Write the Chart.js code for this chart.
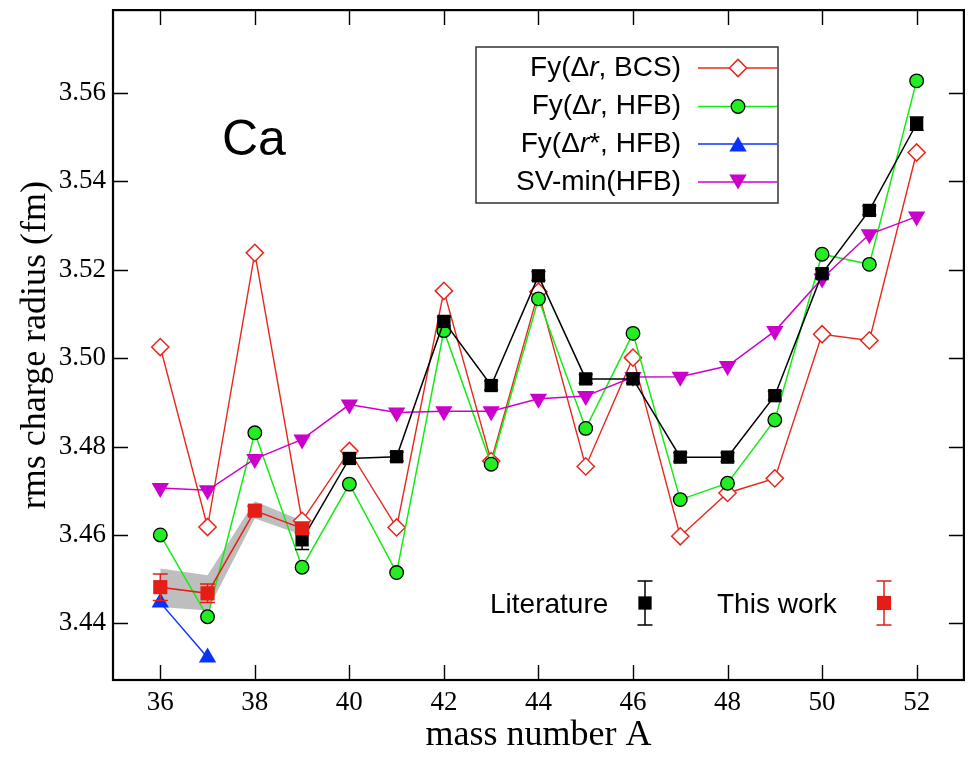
<!DOCTYPE html>
<html><head><meta charset="utf-8">
<script src="https://cdn.jsdelivr.net/npm/chart.js@4/dist/chart.umd.min.js"></script>
<style>html,body{margin:0;padding:0;background:#fff}canvas{display:block}</style>
</head><body>
<canvas id="c" width="974" height="757"></canvas>
<script>
// ---- data ----
const massNumbers = [36,37,38,39,40,41,42,43,44,45,46,47,48,49,50,51,52];
const xTickValues = [36,38,40,42,44,46,48,50,52];
const yTickValues = [3.44,3.46,3.48,3.50,3.52,3.54,3.56];
const fyBCS = [3.5025,3.4618,3.5238,3.4632,3.4790,3.4617,3.5152,3.4767,3.5150,3.4755,3.5001,3.4597,3.4695,3.4728,3.5054,3.5040,3.5465];
const fyHFB = [3.4600,3.4415,3.4831,3.4527,3.4715,3.4515,3.5062,3.4760,3.5134,3.4841,3.5056,3.4680,3.4717,3.4860,3.5235,3.5212,3.5627];
const fyStarA = [36,37];
const fyStarHFB = [3.4447,3.4323];
const svMinHFB = [3.4706,3.4701,3.4772,3.4816,3.4895,3.4877,3.4880,3.4880,3.4908,3.4914,3.4957,3.4958,3.4982,3.5061,3.5180,3.5280,3.5320];
const litA = [39,40,41,42,43,44,45,46,47,48,49,50,51,52];
const litRadius = [3.4589,3.4773,3.4777,3.5083,3.4938,3.5186,3.4953,3.4953,3.4776,3.4776,3.4915,3.5191,3.5334,3.5530];
const litErr = [0.0022,0.0010,0.0010,0.0010,0.0010,0.0010,0.0010,0.0010,0.0010,0.0010,0.0010,0.0010,0.0010,0.0015];
const workA = [36,37,38,39];
const workRadius = [3.4482,3.4468,3.4655,3.4615];
const workErr = [0.0030,0.0021,0.0010,0.0010];
const bandUpper = [3.4524,3.4509,3.4676,3.4632];
const bandLower = [3.4437,3.4429,3.4637,3.4600];

const legendLabels = [
  [['Fy(Δ',0],['r',1],[', BCS)',0]],
  [['Fy(Δ',0],['r',1],[', HFB)',0]],
  [['Fy(Δ',0],['r',1],['*, HFB)',0]],
  [['SV-min(HFB)',0]]
];
const elementLabel = 'Ca';
const litLabel = 'Literature';
const workLabel = 'This work';

// ---- colours ----
const RED = 'rgb(232,40,28)';
const GREEN_LINE = 'rgb(20,235,20)';
const GREEN_FILL = 'rgb(34,238,34)';
const BLUE = 'rgb(10,50,255)';
const MAGENTA = 'rgb(204,0,204)';
const WORK_RED = 'rgb(228,30,22)';

const pts = (xs, ys) => xs.map((x, i) => ({x: x, y: ys[i]}));

const series = [
  {key:'work', label: workLabel, data: pts(workA, workRadius), borderColor: WORK_RED, borderWidth: 1.5,
   pointStyle:'rect', pointRadius:10, pointBackgroundColor: WORK_RED, pointBorderColor: WORK_RED, pointBorderWidth:0,
   errors: workErr, errColor: WORK_RED, capW: 15, order: 0},
  {key:'lit', label: litLabel, data: pts(litA, litRadius), borderColor:'#000', borderWidth:1.5,
   pointStyle:'rect', pointRadius:9.4, pointBackgroundColor:'#000', pointBorderColor:'#000', pointBorderWidth:0,
   errors: litErr, errColor:'#000', capW: 14, order: 1},
  {key:'sv', label:'SV-min(HFB)', data: pts(massNumbers, svMinHFB), borderColor: MAGENTA, borderWidth:1.5,
   pointStyle:'triangle', rotation:180, pointRotation:180, pointRadius:10, pointBackgroundColor: MAGENTA, pointBorderColor: MAGENTA, pointBorderWidth:0, order: 2},
  {key:'star', label:'Fy(Δr*, HFB)', data: pts(fyStarA, fyStarHFB), borderColor: BLUE, borderWidth:1.5,
   pointStyle:'triangle', pointRadius:10, pointBackgroundColor: BLUE, pointBorderColor: BLUE, pointBorderWidth:0, order: 3},
  {key:'hfb', label:'Fy(Δr, HFB)', data: pts(massNumbers, fyHFB), borderColor: GREEN_LINE, borderWidth:1.5,
   pointStyle:'circle', pointRadius:6.8, pointBackgroundColor: GREEN_FILL, pointBorderColor:'#000', pointBorderWidth:1.3, order: 4},
  {key:'bcs', label:'Fy(Δr, BCS)', data: pts(massNumbers, fyBCS), borderColor: RED, borderWidth:1.4,
   pointStyle:'rectRot', pointRadius:8.6, pointBackgroundColor:'#fff', pointBorderColor: RED, pointBorderWidth:1.5, order: 5},
  {key:'bandU', label:'band', data: pts(workA, bandUpper), borderWidth:0, borderColor:'rgba(0,0,0,0)', pointRadius:0,
   fill:'+1', backgroundColor:'rgb(190,190,190)', order: 6},
  {key:'bandL', label:'band', data: pts(workA, bandLower), borderWidth:0, borderColor:'rgba(0,0,0,0)', pointRadius:0,
   fill:false, order: 7}
];
series.forEach(s => { s.tension = 0; s.pointHoverRadius = s.pointRadius; if (s.fill === undefined) s.fill = false; });

// ---- helpers ----
function marker(ctx, style, x, y, r, fill, stroke, bw, rot) {
  ctx.save();
  ctx.fillStyle = fill; ctx.strokeStyle = stroke; ctx.lineWidth = bw || 0;
  if (Chart.helpers && Chart.helpers.drawPoint) {
    Chart.helpers.drawPoint(ctx, {pointStyle: style, radius: r, borderWidth: bw || 0, rotation: rot || 0}, x, y);
  }
  ctx.restore();
}

const errorBars = {
  id: 'errorBars',
  beforeDatasetDraw(chart, args) {
    const ds = chart.data.datasets[args.index];
    if (!ds.errors) return;
    const ctx = chart.ctx, ys = chart.scales.y;
    ctx.save();
    ctx.strokeStyle = ds.errColor; ctx.lineWidth = 1.5;
    args.meta.data.forEach((pt, i) => {
      const v = ds.data[i].y, e = ds.errors[i];
      const t = ys.getPixelForValue(v + e), b = ys.getPixelForValue(v - e);
      const h = ds.capW / 2;
      ctx.beginPath();
      ctx.moveTo(pt.x, t); ctx.lineTo(pt.x, b);
      ctx.moveTo(pt.x - h, t); ctx.lineTo(pt.x + h, t);
      ctx.moveTo(pt.x - h, b); ctx.lineTo(pt.x + h, b);
      ctx.stroke();
    });
    ctx.restore();
  }
};

const frameTicks = {
  id: 'frameTicks',
  afterDatasetsDraw(chart) {
    const ctx = chart.ctx, a = chart.chartArea, xs = chart.scales.x, ys = chart.scales.y;
    const L = 15;
    ctx.save();
    ctx.strokeStyle = '#000'; ctx.lineWidth = 1.4;
    ctx.beginPath();
    xTickValues.forEach(v => {
      const p = Math.round(xs.getPixelForValue(v)) + 0.5;
      ctx.moveTo(p, a.bottom); ctx.lineTo(p, a.bottom - L);
      ctx.moveTo(p, a.top); ctx.lineTo(p, a.top + L);
    });
    yTickValues.forEach(v => {
      const p = Math.round(ys.getPixelForValue(v)) + 0.5;
      ctx.moveTo(a.left, p); ctx.lineTo(a.left + L, p);
      ctx.moveTo(a.right, p); ctx.lineTo(a.right - L, p);
    });
    ctx.stroke();
    ctx.lineWidth = 2.2;
    ctx.strokeRect(a.left, a.top, a.right - a.left, a.bottom - a.top);
    ctx.restore();
  }
};

const annotations = {
  id: 'annotations',
  afterDraw(chart) {
    const ctx = chart.ctx;
    ctx.save();
    // element label
    ctx.fillStyle = '#000';
    ctx.font = '50px "Liberation Sans", Arial, sans-serif';
    ctx.textBaseline = 'alphabetic'; ctx.textAlign = 'left';
    ctx.fillText(elementLabel, 222, 155);

    // legend box
    ctx.strokeStyle = '#333'; ctx.lineWidth = 1.5;
    ctx.strokeRect(476, 47, 302, 156);
    const rowsY = [68, 106.5, 144, 182];
    const styles = [
      {c: RED, st:'rectRot', r:8.6, fill:'#fff', stroke:RED, bw:1.5, rot:0},
      {c: GREEN_LINE, st:'circle', r:6.8, fill:GREEN_FILL, stroke:'#000', bw:1.3, rot:0},
      {c: BLUE, st:'triangle', r:10, fill:BLUE, stroke:BLUE, bw:0, rot:0},
      {c: MAGENTA, st:'triangle', r:10, fill:MAGENTA, stroke:MAGENTA, bw:0, rot:180}
    ];
    ctx.textBaseline = 'middle';
    legendLabels.forEach((segs, i) => {
      const y = rowsY[i];
      let total = 0;
      const fonts = segs.map(s => (s[1] ? 'italic ' : '') + '28px "Liberation Sans", Arial, sans-serif');
      segs.forEach((s, j) => { ctx.font = fonts[j]; total += ctx.measureText(s[0]).width; });
      let x = 681 - total;
      ctx.fillStyle = '#000';
      segs.forEach((s, j) => { ctx.font = fonts[j]; ctx.fillText(s[0], x, y); x += ctx.measureText(s[0]).width; });
      const st = styles[i];
      ctx.strokeStyle = st.c; ctx.lineWidth = 1.5;
      ctx.beginPath(); ctx.moveTo(698, y); ctx.lineTo(777, y); ctx.stroke();
      const my = st.st === 'triangle' ? (st.rot ? y - 2.5 : y + 2.5) : y;
      marker(ctx, st.st, 738, my, st.r, st.fill, st.stroke, st.bw, st.rot);
    });

    // bottom key
    ctx.fillStyle = '#000';
    ctx.font = '28px "Liberation Sans", Arial, sans-serif';
    ctx.textBaseline = 'alphabetic';
    ctx.fillText(litLabel, 490, 613);
    ctx.fillText(workLabel, 717, 613);
    const drawKey = (x, col, r, cap) => {
      ctx.strokeStyle = col; ctx.lineWidth = 1.5;
      ctx.beginPath();
      ctx.moveTo(x, 581); ctx.lineTo(x, 625);
      ctx.moveTo(x - cap/2, 581); ctx.lineTo(x + cap/2, 581);
      ctx.moveTo(x - cap/2, 625); ctx.lineTo(x + cap/2, 625);
      ctx.stroke();
      marker(ctx, 'rect', x, 603, r, col, col, 0, 0);
    };
    drawKey(645, '#000', 9.4, 15);
    drawKey(884, WORK_RED, 10, 15);
    ctx.restore();
  }
};

new Chart(document.getElementById('c'), {
  type: 'line',
  data: { datasets: series },
  options: {
    responsive: false,
    devicePixelRatio: 1,
    animation: false,
    events: [],
    layout: { padding: { top: 7, right: 7, left: 0, bottom: 0 } },
    plugins: { legend: { display: false }, tooltip: { enabled: false } },
    scales: {
      x: {
        type: 'linear', min: 35, max: 53,
        afterBuildTicks: s => { s.ticks = xTickValues.map(v => ({value: v})); },
        afterFit: s => { s.height = 77; s.paddingLeft = 0; s.paddingRight = 0; },
        grid: { display: false, drawTicks: false },
        border: { display: false },
        ticks: { autoSkip: false, maxRotation: 0, padding: 7, color: '#000',
                 font: { family: '"Liberation Serif", "Times New Roman", serif', size: 27 },
                 callback: v => String(v) },
        title: { display: true, text: 'mass number A', color: '#000',
                 font: { family: '"Liberation Serif", "Times New Roman", serif', size: 36 },
                 padding: { top: 0, bottom: 0 } }
      },
      y: {
        type: 'linear', min: 3.4272, max: 3.5787,
        afterBuildTicks: s => { s.ticks = yTickValues.map(v => ({value: v})); },
        afterFit: s => { s.width = 113; s.paddingTop = 0; s.paddingBottom = 0; },
        grid: { display: false, drawTicks: false },
        border: { display: false },
        ticks: { autoSkip: false, padding: 7, color: '#000',
                 font: { family: '"Liberation Serif", "Times New Roman", serif', size: 27 },
                 callback: v => Number(v).toFixed(2) },
        title: { display: true, text: 'rms charge radius (fm)', color: '#000',
                 font: { family: '"Liberation Serif", "Times New Roman", serif', size: 36 },
                 padding: { top: 14, bottom: 0 } }
      }
    }
  },
  plugins: [errorBars, frameTicks, annotations]
});
</script>
</body></html>
